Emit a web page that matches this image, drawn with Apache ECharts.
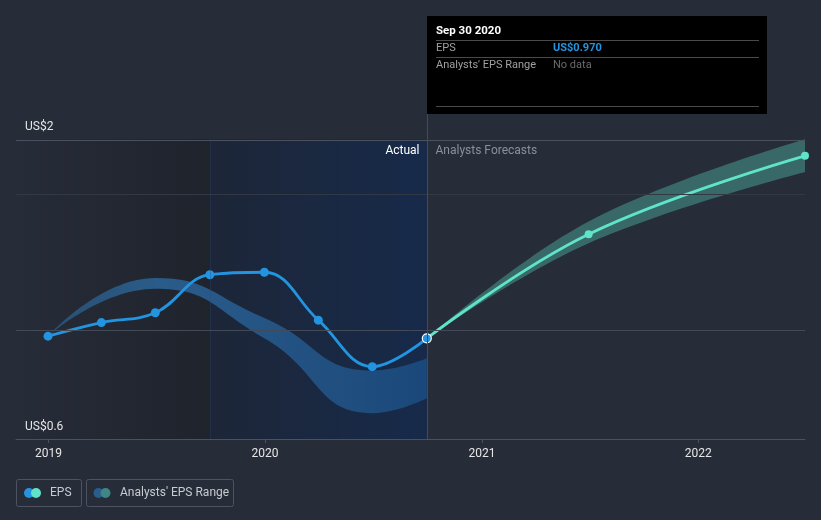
<!DOCTYPE html>
<html><head><meta charset="utf-8">
<script src="https://cdn.jsdelivr.net/npm/echarts@6/dist/echarts.min.js"></script>
<style>html,body{margin:0;padding:0;background:#262c38}#c{width:821px;height:520px}</style>
</head><body><div id="c"></div>
<script>
// ---- data ----
const epsDates = ['2018-12-31','2019-03-31','2019-06-30','2019-09-30','2019-12-31','2020-03-31','2020-06-30','2020-09-30'];
const epsValues = [0.978, 1.028, 1.064, 1.204, 1.213, 1.037, 0.866, 0.970];
const rangeDates = ['2018-12-31','2019-06-30','2019-12-31','2020-06-30','2020-09-30'];
const rangeLow  = [0.978, 1.152, 0.970, 0.695, 0.750];
const rangeHigh = [0.978, 1.192, 1.045, 0.852, 0.897];
const fcDates  = ['2020-09-30','2021-06-30','2022-06-30'];
const fcValues = [0.970, 1.353, 1.641];
const fcLow    = [0.970, 1.320, 1.582];
const fcHigh   = [0.970, 1.400, 1.702];
const xMin = '2018-11-07', xMax = '2022-06-30';
const yMin = 0.6, yMax = 1.703;
const gridValues = [1.0, 1.5];
const yTickLabels = ['US$2', 'US$0.6'];
const highlightStart = '2019-09-30';
const forecastStart = '2020-09-30';
const tipTitle = 'Sep 30 2020';
const tipEps = 'US$0.970';

// ---- chart ----
const FONT = 'Roboto, "Noto Sans", sans-serif';
const BLUE = '#2394df', TEAL = '#5fe3c9';
const chart = echarts.init(document.getElementById('c'), null, {renderer: 'canvas'});
const pair = (d, v) => d.map((x, i) => [x, v[i]]);
const diff = (d, lo, hi) => d.map((x, i) => [x, +(hi[i] - lo[i]).toFixed(4)]);

const option = {
  backgroundColor: '#262c38',
  animation: false,
  textStyle: {fontFamily: FONT},
  grid: {left: 16, right: 16, top: 139, bottom: 81, containLabel: false},
  xAxis: {
    type: 'time', min: xMin, max: xMax,
    minInterval: 365 * 864e5, maxInterval: 366 * 864e5,
    axisLine: {lineStyle: {color: '#4b515e', width: 1}},
    axisTick: {show: true, length: 4, lineStyle: {color: '#4b515e'}},
    axisLabel: {formatter: '{yyyy}', color: '#e6e6e6', fontSize: 12, margin: 9, fontFamily: FONT,
                showMinLabel: false, showMaxLabel: false},
    splitLine: {show: false}
  },
  yAxis: {
    type: 'value', min: yMin, max: yMax,
    axisLine: {show: false}, axisTick: {show: false}, axisLabel: {show: false}, splitLine: {show: false}
  },
  series: [
    {
      name: 'bg', type: 'line', z: 0, data: [], silent: true,
      markArea: {
        silent: true,
        data: [
          [{xAxis: xMin, itemStyle: {color: new echarts.graphic.LinearGradient(0, 0, 1, 0, [
              {offset: 0, color: 'rgba(31,35,44,0)'}, {offset: 1, color: 'rgba(31,35,44,1)'}])}},
           {xAxis: highlightStart}],
          [{xAxis: highlightStart, itemStyle: {color: new echarts.graphic.LinearGradient(0, 0, 1, 0, [
              {offset: 0, color: '#1d2638'}, {offset: 1, color: '#172a4a'}])}},
           {xAxis: forecastStart}]
        ]
      },
      markLine: {
        silent: true, symbol: 'none', label: {show: false},
        data: [
          {yAxis: gridValues[0], lineStyle: {color: '#424957', width: 1, type: 'solid'}},
          {yAxis: gridValues[1], lineStyle: {color: '#323844', width: 1, type: 'solid'}},
          {yAxis: yMax, lineStyle: {color: '#4b515e', width: 1, type: 'solid'}},
          {xAxis: highlightStart, lineStyle: {color: 'rgba(40,70,115,0.3)', width: 1, type: 'solid'}}
        ]
      }
    },
    {
      name: 'rangeLow', type: 'line', stack: 'past', smooth: 0.5, symbol: 'none', z: 1, silent: true,
      lineStyle: {opacity: 0}, data: pair(rangeDates, rangeLow)
    },
    {
      name: "Analysts' EPS Range", type: 'line', stack: 'past', smooth: 0.5, symbol: 'none', z: 1, silent: true,
      lineStyle: {opacity: 0},
      areaStyle: {opacity: 1, color: new echarts.graphic.LinearGradient(0, 0, 1, 0, [
        {offset: 0, color: 'rgba(43,95,140,0.7)'}, {offset: 0.3, color: 'rgba(42,92,138,1)'},
        {offset: 1, color: 'rgba(27,72,122,1)'}])},
      data: diff(rangeDates, rangeLow, rangeHigh)
    },
    {
      name: 'fcLow', type: 'line', stack: 'fc', smooth: 0.4, symbol: 'none', z: 1, silent: true,
      lineStyle: {opacity: 0}, data: pair(fcDates, fcLow)
    },
    {
      name: 'fcRange', type: 'line', stack: 'fc', smooth: 0.4, symbol: 'none', z: 1, silent: true,
      lineStyle: {opacity: 0},
      areaStyle: {opacity: 1, color: 'rgba(95,227,201,0.33)'},
      data: diff(fcDates, fcLow, fcHigh)
    },
    {
      name: 'EPS forecast', type: 'line', smooth: 0.4, z: 3, symbol: 'circle', symbolSize: 8,
      itemStyle: {color: TEAL}, lineStyle: {color: TEAL, width: 2.8},
      data: fcDates.map((d, i) => i === 0 ? {value: [d, fcValues[i]], symbol: 'none'} : [d, fcValues[i]])
    },
    {
      name: 'EPS', type: 'line', smooth: 0.4, z: 4, symbol: 'circle', symbolSize: 9,
      itemStyle: {color: BLUE}, lineStyle: {color: BLUE, width: 2.8},
      data: epsDates.map((d, i) => i === epsDates.length - 1
        ? {value: [d, epsValues[i]], symbolSize: 9, itemStyle: {color: BLUE, borderColor: '#ffffff', borderWidth: 1.2}}
        : [d, epsValues[i]])
    }
  ]
};
chart.setOption(option);

// overlay: labels, tooltip, legend
const px = chart.convertToPixel({gridIndex: 0}, [forecastStart, yMax]);
const pBottom = chart.convertToPixel({gridIndex: 0}, [forecastStart, yMin]);
const xf = Math.round(px[0]) + 0.5;
const g = [];
g.push({type: 'line', shape: {x1: xf, y1: 114, x2: xf, y2: pBottom[1]}, style: {stroke: '#3a4c66', lineWidth: 1}, z: 5});
g.push({type: 'text', left: 25, top: 121, style: {text: yTickLabels[0], fill: '#e6e6e6', font: '12px ' + FONT}, z: 6});
g.push({type: 'text', left: 25, top: 421, style: {text: yTickLabels[1], fill: '#e6e6e6', font: '12px ' + FONT}, z: 6});
g.push({type: 'text', x: xf - 8, y: 151, style: {text: 'Actual', fill: '#ffffff', font: '12px ' + FONT, align: 'right', verticalAlign: 'middle'}, z: 6});
g.push({type: 'text', x: xf + 8, y: 151, style: {text: 'Analysts Forecasts', fill: '#8b9099', font: '12px ' + FONT, align: 'left', verticalAlign: 'middle'}, z: 6});
const tx = xf - 0.5, ty = 16, tw = 340, th = 98;
g.push({type: 'rect', shape: {x: tx, y: ty, width: tw, height: th}, style: {fill: '#000000'}, z: 10});
g.push({type: 'text', x: tx + 9, y: 31, style: {text: tipTitle, fill: '#ffffff', font: 'bold 11.5px ' + FONT, verticalAlign: 'middle'}, z: 11});
[40.5, 57.5, 106.5].forEach(yy => g.push({type: 'line', shape: {x1: tx + 9, y1: yy, x2: tx + tw - 8, y2: yy}, style: {stroke: '#4a4a4a', lineWidth: 1}, z: 11}));
g.push({type: 'text', x: tx + 9, y: 48, style: {text: 'EPS', fill: '#a0a0a0', font: '11px ' + FONT, verticalAlign: 'middle'}, z: 11});
g.push({type: 'text', x: tx + 126, y: 48, style: {text: tipEps, fill: BLUE, font: 'bold 11px ' + FONT, verticalAlign: 'middle'}, z: 11});
g.push({type: 'text', x: tx + 9, y: 65, style: {text: "Analysts' EPS Range", fill: '#a0a0a0', font: '11px ' + FONT, verticalAlign: 'middle'}, z: 11});
g.push({type: 'text', x: tx + 126, y: 65, style: {text: 'No data', fill: '#6a6a6a', font: '11px ' + FONT, verticalAlign: 'middle'}, z: 11});
g.push({type: 'rect', shape: {x: 16.5, y: 479.5, width: 65, height: 27, r: 2}, style: {fill: 'none', stroke: '#4d5360', lineWidth: 1}, z: 6});
g.push({type: 'circle', shape: {cx: 29, cy: 493, r: 5}, style: {fill: BLUE}, z: 6});
g.push({type: 'circle', shape: {cx: 36, cy: 493, r: 5}, style: {fill: TEAL}, z: 7});
g.push({type: 'text', x: 50, y: 493, style: {text: 'EPS', fill: '#c8cbd0', font: '12px ' + FONT, verticalAlign: 'middle'}, z: 6});
g.push({type: 'rect', shape: {x: 86.5, y: 479.5, width: 147, height: 27, r: 2}, style: {fill: 'none', stroke: '#4d5360', lineWidth: 1}, z: 6});
g.push({type: 'circle', shape: {cx: 98.5, cy: 493, r: 5}, style: {fill: '#285d8c'}, z: 6});
g.push({type: 'circle', shape: {cx: 105.5, cy: 493, r: 5}, style: {fill: '#3e8785'}, z: 7});
g.push({type: 'text', x: 120, y: 493, style: {text: "Analysts' EPS Range", fill: '#c8cbd0', font: '12px ' + FONT, verticalAlign: 'middle'}, z: 6});
chart.setOption({graphic: g});
</script></body></html>
